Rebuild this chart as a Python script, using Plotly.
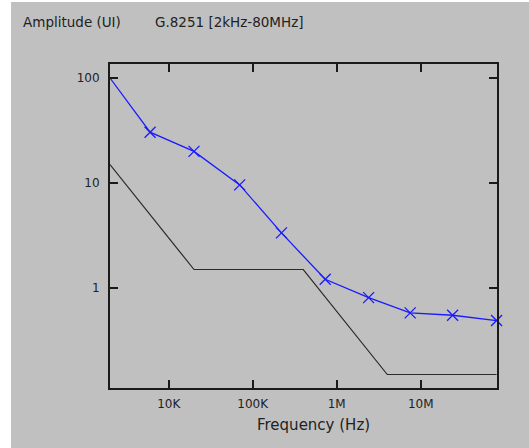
import plotly.graph_objects as go
import math

# Measured amplitude (blue)
freq_meas = [2e3, 6e3, 20e3, 70e3, 220e3, 730e3, 2.4e6, 7.5e6, 24e6, 80e6]
amp_meas = [100, 30.5, 20, 9.6, 3.35, 1.21, 0.81, 0.58, 0.55, 0.49]

# G.8251 mask (black)
freq_mask = [2e3, 20e3, 400e3, 4e6, 80e6]
amp_mask = [15, 1.5, 1.5, 0.15, 0.15]

x_tickvals = [1e4, 1e5, 1e6, 1e7]
x_ticktext = ["10K", "100K", "1M", "10M"]
y_tickvals = [1, 10, 100]
y_ticktext = ["1", "10", "100"]

FONT = "DejaVu Sans, Verdana, Arial"

fig = go.Figure()
fig.add_trace(go.Scatter(x=freq_mask, y=amp_mask, mode="lines",
                         line=dict(color="#2a2a2a", width=1.2), showlegend=False))
fig.add_trace(go.Scatter(x=freq_meas, y=amp_meas, mode="lines+markers",
                         line=dict(color="#1a1aff", width=1.3),
                         marker=dict(symbol="x-thin", size=11,
                                     line=dict(color="#1a1aff", width=1.3)),
                         showlegend=False, cliponaxis=False))

axis_common = dict(showgrid=False, zeroline=False, showline=True, linecolor="#1a1a1a",
                   linewidth=2, mirror="ticks", ticks="inside", ticklen=8, tickwidth=1.5,
                   tickcolor="#1a1a1a", tickfont=dict(family=FONT, size=12, color="#222"))

fig.update_xaxes(type="log", range=[math.log10(2000), math.log10(81e6)],
                 tickvals=x_tickvals, ticktext=x_ticktext, ticklabelstandoff=4, **axis_common)
fig.update_yaxes(type="log", range=[math.log10(0.1116), math.log10(136)],
                 tickvals=y_tickvals, ticktext=y_ticktext, ticklabelstandoff=6, **axis_common)

PW, PH = 387, 324
fig.add_shape(type="rect", xref="paper", yref="paper",
              x0=-99/PW, x1=1+40/PW, y0=-70/PH, y1=1+62/PH,
              fillcolor="#c0c0c0", line=dict(width=0), layer="below")

fig.add_annotation(text="Amplitude (UI)", xref="paper", yref="paper",
                   x=-89/PW, y=1+42/PH, xanchor="left", yanchor="middle", showarrow=False,
                   font=dict(family=FONT, size=13.5, color="#222"))
fig.add_annotation(text="G.8251 [2kHz-80MHz]", xref="paper", yref="paper",
                   x=(153-110)/PW, y=1+42/PH, xanchor="left", yanchor="middle", showarrow=False,
                   font=dict(family=FONT, size=13.5, color="#222"))
fig.add_annotation(text="Frequency (Hz)", xref="paper", yref="paper",
                   x=(313-110)/PW, y=-37/PH, xanchor="center", yanchor="middle", showarrow=False,
                   font=dict(family=FONT, size=15, color="#222"))

fig.update_layout(width=529, height=448, margin=dict(l=110, r=32, t=64, b=60),
                  paper_bgcolor="white", plot_bgcolor="#dfe3e0")

fig.write_html("out.html", config={"displayModeBar": False},
               post_script="document.body.style.margin='0';")
